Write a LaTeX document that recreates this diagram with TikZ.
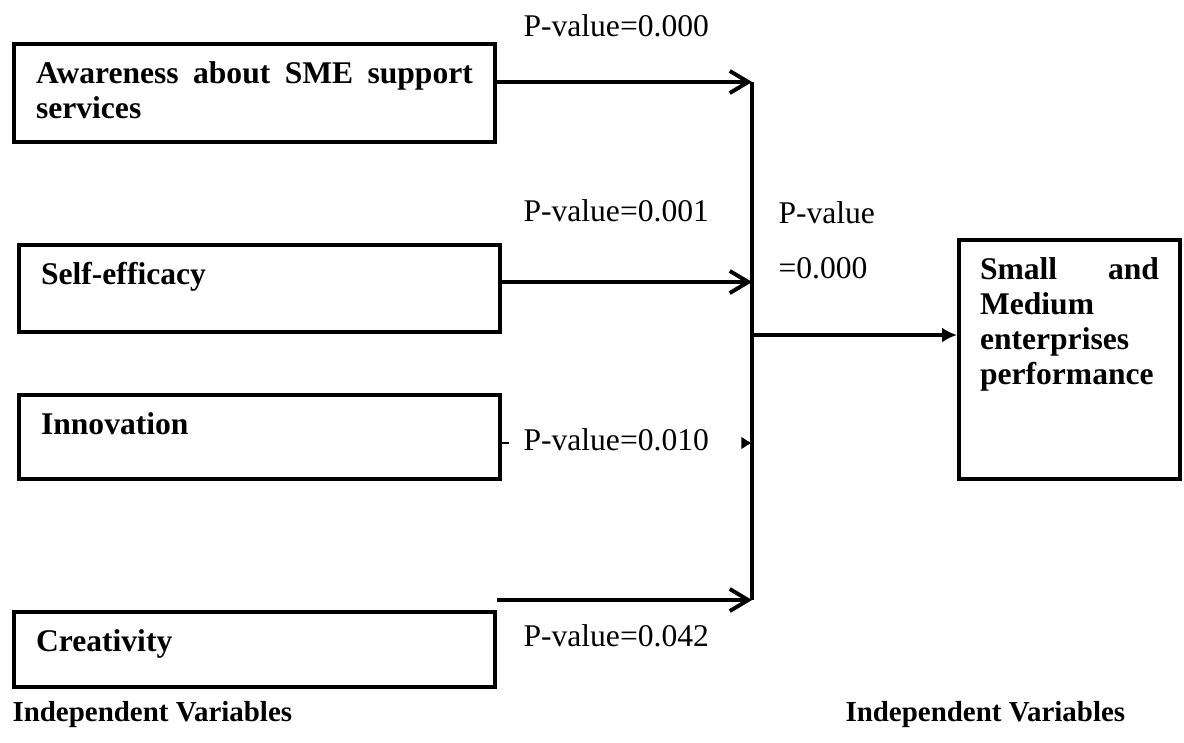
\documentclass[tikz,border=0pt]{standalone}
\usepackage{fontspec}
\setmainfont{Liberation Serif}
\usetikzlibrary{arrows.meta}
\tikzset{%
  >={Straight Barb[length=7pt,width=8.4pt]},
  % Specifications for style of nodes:
      varbox/.style = {rectangle, draw=black, line width=1.5pt, anchor=north west,
                       text width=166pt, inner xsep=8.4pt, inner ysep=7pt,
                       text height=8.2pt, align=justify,
                       font=\fontsize{12}{13.2}\selectfont\bfseries},
      pvalue/.style = {inner sep=0pt, anchor=west},
     varname/.style = {pvalue, font=\fontsize{11}{13}\selectfont\bfseries},
        link/.style = {line width=1.5pt, ->},
}

\begin{document}
\begin{tikzpicture}[x=0.38pt, y=-0.38pt,
    every node/.style={font=\fontsize{12}{13.2}\selectfont}]
\useasboundingbox (0,0) rectangle (1184,742);

\node (Aware)  [varbox, text depth=15pt]   at (12,42)  {Awareness about SME support services};
\node (Self)   [varbox, text depth=10.9pt] at (17,243) {Self-efficacy};
\node (Innov)  [varbox, text depth=9.7pt]  at (17,393) {Innovation};
\node (Creat)  [varbox, text depth=6.3pt]  at (12,610) {Creativity};

\node (SME)    [varbox, text width=68pt, inner xsep=8pt, align=left,
                text depth=68.6pt] at (957,238) {Small\hfill and\\ Medium\\ enterprises\\ performance};

% the common line
\coordinate (top) at (752,82);
\coordinate (s2)  at (752,282);
\coordinate (jn)  at (752,335);
\coordinate (s3)  at (752,443);
\coordinate (bot) at (752,600);
\draw[line width=1.5pt] (top) -- (bot);

\draw[link]             (Aware.east |- top) -- (top);
\draw[link]             (Self.east |- s2) -- (s2);
\draw[line width=1pt, dash pattern=on 2.5pt off 120pt,
      -{Latex[length=4pt,width=5pt]}]     (Innov.east |- s3) -- (s3);
\draw[link]             (Creat.east |- bot) -- (bot);
\draw[line width=1.5pt, -{Latex[length=5.7pt,width=5.7pt]}] (jn) -- (SME.west |- jn);

\node (Pa)  [pvalue] at (523,26)  {P-value=0.000};
\node (Ps)  [pvalue] at (523,211) {P-value=0.001};
\node (Pi)  [pvalue] at (523,440) {P-value=0.010};
\node (Pc)  [pvalue] at (523,636) {P-value=0.042};
\node (Pm)  [pvalue] at (778,213) {P-value};
\node (Pm2) [pvalue] at (778,268) {=0.000};

\node (IVleft)  [varname] at (12,715)  {Independent Variables};
\node (IVright) [varname] at (845,715) {Independent Variables};
\end{tikzpicture}
\end{document}
